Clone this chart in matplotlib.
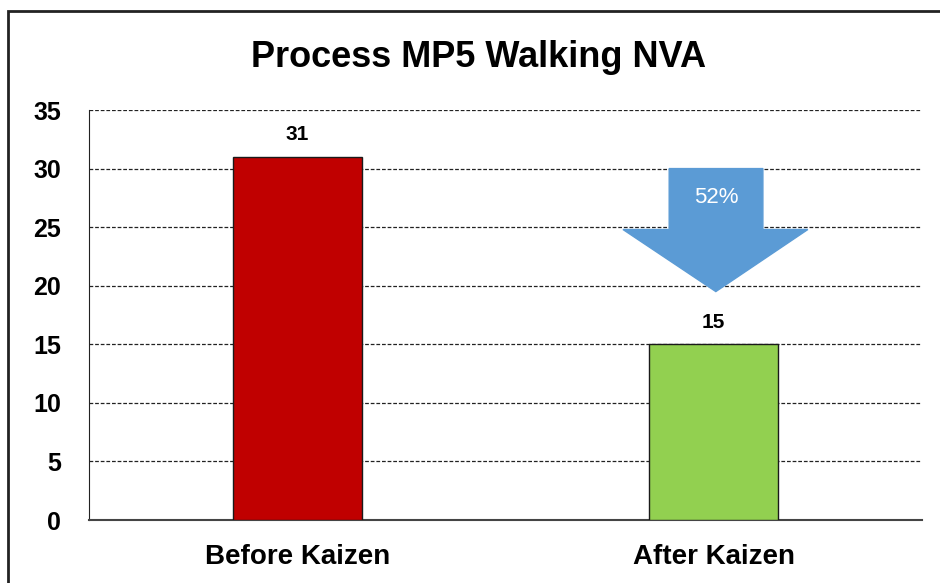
import matplotlib
matplotlib.use("Agg")
import matplotlib.pyplot as plt
from matplotlib.patches import Polygon, Rectangle

categories = ["Before Kaizen", "After Kaizen"]
values = [31, 15]
colors = ["#C00000", "#92D050"]
yticks = [0, 5, 10, 15, 20, 25, 30, 35]
reduction_label = "52%"

plt.rcParams['font.family'] = ['Liberation Sans', 'DejaVu Sans']

W, H = 940, 583
fig = plt.figure(figsize=(W / 100, H / 100), dpi=100)
fig.patch.set_facecolor("white")

# outer chart frame (extends beyond the right/bottom edge)
fig.patches.append(Rectangle((8 / W, -0.05), 1.2, 1 - 11 / H + 0.05,
                             transform=fig.transFigure, fill=False,
                             edgecolor="#222222", linewidth=2))

ax = fig.add_axes([89 / W, 1 - 520 / H, (922 - 89) / W, (520 - 110) / H])
x = list(range(len(categories)))
ax.bar(x, values, width=0.31, color=colors, edgecolor="#1a1a1a", linewidth=1, zorder=3)
ax.set_xlim(-0.5, 1.5)
ax.set_ylim(0, 35)
ax.set_yticks(yticks)
ax.set_yticklabels([str(t) for t in yticks], fontsize=18, fontweight="bold")
ax.set_xticks(x)
ax.set_xticklabels(categories, fontsize=20, fontweight="bold")
ax.tick_params(axis="y", length=0, pad=20)
ax.tick_params(axis="x", length=0, pad=17)
ax.yaxis.grid(True, linestyle=(0, (3, 1.5)), color="#222222", linewidth=0.9, zorder=0)
ax.set_axisbelow(True)
for s in ["top", "right"]:
    ax.spines[s].set_visible(False)
ax.spines["left"].set_color("#222222")
ax.spines["bottom"].set_color("#444444")
ax.spines["bottom"].set_linewidth(1.5)

for xi, v in zip(x, values):
    ax.annotate(str(v), (xi, v), xytext=(0, 9), textcoords="offset points",
                ha="center", va="bottom", fontsize=15, fontweight="bold", zorder=4)

# reduction arrow
bx0, bx1 = 0.893, 1.118
hx0, hx1 = 0.782, 1.226
tipx = 1.005
ytop, yhead, ytip = 30.0, 24.8, 19.5
arrow = Polygon([(bx0, ytop), (bx1, ytop), (bx1, yhead), (hx1, yhead),
                 (tipx, ytip), (hx0, yhead), (bx0, yhead)],
                closed=True, facecolor="#5B9BD5", edgecolor="#5B9BD5", zorder=5)
ax.add_patch(arrow)
ax.text((bx0 + bx1) / 2, 27.5, reduction_label, ha="center", va="center",
        color="white", fontsize=16, zorder=6)

fig.text(479 / W, 1 - 67 / H, "Process MP5 Walking NVA", ha="center", va="baseline",
         fontsize=26, fontweight="bold")

fig.savefig("out.png", dpi=100)
